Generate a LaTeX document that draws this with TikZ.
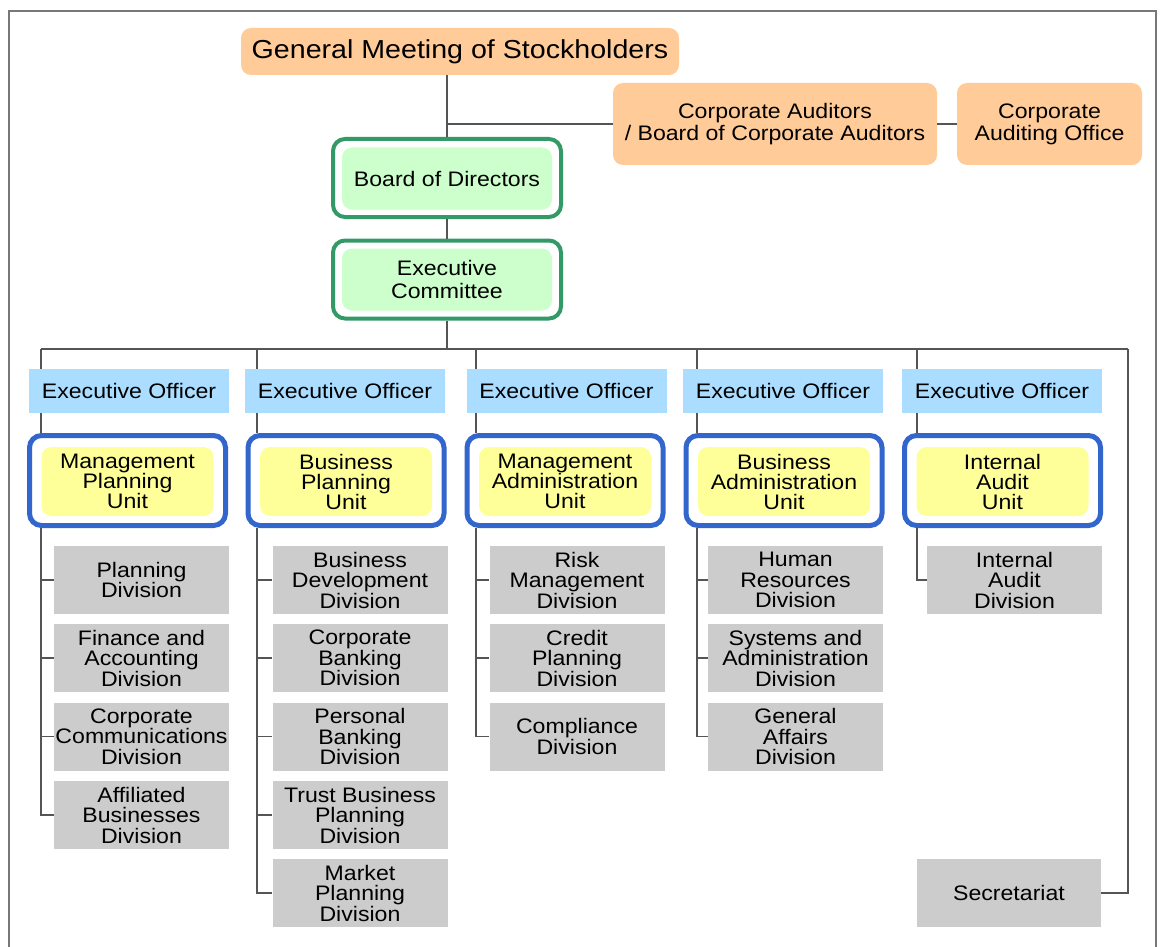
\documentclass[tikz,border=0pt]{standalone}
\usepackage{fontspec}
\setmainfont{Liberation Sans}[FakeStretch=1.1]
\definecolor{peach}{HTML}{FFCC99}
\definecolor{grn}{HTML}{339966}
\definecolor{lgrn}{HTML}{CCFFCC}
\definecolor{eoblue}{HTML}{AADDFF}
\definecolor{unitblue}{HTML}{3366CC}
\definecolor{yel}{HTML}{FFFF99}
\definecolor{divgray}{HTML}{CCCCCC}
\definecolor{linegray}{HTML}{555555}
\definecolor{framegray}{HTML}{777777}
\begin{document}
\begin{tikzpicture}[x=1pt,y=-1pt,
  every node/.style={inner sep=0pt, align=center, text=black, font=\fontsize{21}{20.5}\selectfont},
  peachbox/.style={fill=peach, rounded corners=10pt},
  greenouter/.style={draw=grn, line width=4pt, fill=white, rounded corners=12pt, minimum width=228pt, minimum height=78pt},
  greeninner/.style={fill=lgrn, rounded corners=10pt, minimum width=210pt, minimum height=62pt},
  eobox/.style={fill=eoblue, minimum width=200pt, minimum height=44pt},
  unitouter/.style={draw=unitblue, line width=5pt, fill=white, rounded corners=12pt, minimum width=196pt, minimum height=90pt},
  unitinner/.style={fill=yel, rounded corners=10pt, minimum width=172pt, minimum height=69pt, font=\fontsize{21}{20}\selectfont},
  divbox/.style={fill=divgray, minimum width=175pt, minimum height=68pt},
  conn/.style={draw=linegray, line width=1.6pt}]
\path[use as bounding box, fill=white] (0,0) rectangle (1160,947);
\draw[framegray, line width=2.5pt] (9,960) -- (9,11) -- (1156,11) -- (1156,960);

% top
\node[peachbox, minimum width=438pt, minimum height=47pt, font=\fontsize{26}{28}\selectfont] (gm) at (460,51.5) {General Meeting of Stockholders};
\node[peachbox, minimum width=324pt, minimum height=82pt, font=\fontsize{21}{22}\selectfont] (ca) at (775,124) {Corporate Auditors\\/ Board of Corporate Auditors};
\node[peachbox, minimum width=185pt, minimum height=82pt, font=\fontsize{21}{22}\selectfont] (cao) at (1049.5,124) {Corporate\\Auditing Office};

\node[greenouter] (bod) at (447,178) {};
\node[greeninner] (bodin) at (447,178.5) {Board of Directors};
\node[greenouter] (exc) at (447,279.5) {};
\node[greeninner, font=\fontsize{21}{23}\selectfont] (excin) at (447,279.5) {Executive\\Committee};

% executive officers
\node[eobox] (eo1) at (129,391) {Executive Officer};
\node[eobox] (eo2) at (345,391) {Executive Officer};
\node[eobox] (eo3) at (566.5,391) {Executive Officer};
\node[eobox] (eo4) at (783,391) {Executive Officer};
\node[eobox] (eo5) at (1002,391) {Executive Officer};

% units
\node[unitouter] (u1) at (127.5,480.5) {};
\node[unitinner] (u1in) at (127.5,481.5) {Management\\Planning\\Unit};
\node[unitouter] (u2) at (346,480.5) {};
\node[unitinner] (u2in) at (346,481.5) {Business\\Planning\\Unit};
\node[unitouter] (u3) at (565,480.5) {};
\node[unitinner] (u3in) at (565,481.5) {Management\\Administration\\Unit};
\node[unitouter] (u4) at (784,480.5) {};
\node[unitinner] (u4in) at (784,481.5) {Business\\Administration\\Unit};
\node[unitouter] (u5) at (1002.5,480.5) {};
\node[unitinner] (u5in) at (1002.5,481.5) {Internal\\Audit\\Unit};

% divisions
\node[divbox] (d11) at (141.5,580) {Planning\\Division};
\node[divbox] (d12) at (141.5,658) {Finance and\\Accounting\\Division};
\node[divbox] (d13) at (141.5,736.5) {Corporate\\Communications\\Division};
\node[divbox] (d14) at (141.5,815) {Affiliated\\Businesses\\Division};

\node[divbox] (d21) at (360,580) {Business\\Development\\Division};
\node[divbox] (d22) at (360,658) {Corporate\\Banking\\Division};
\node[divbox] (d23) at (360,736.5) {Personal\\Banking\\Division};
\node[divbox] (d24) at (360,815) {Trust Business\\Planning\\Division};
\node[divbox] (d25) at (360,893) {Market\\Planning\\Division};

\node[divbox] (d31) at (577,580) {Risk\\Management\\Division};
\node[divbox] (d32) at (577,658) {Credit\\Planning\\Division};
\node[divbox] (d33) at (577,736.5) {Compliance\\Division};

\node[divbox] (d41) at (795.5,580) {Human\\Resources\\Division};
\node[divbox] (d42) at (795.5,658) {Systems and\\Administration\\Division};
\node[divbox] (d43) at (795.5,736.5) {General\\Affairs\\Division};

\node[divbox] (d51) at (1014.5,580) {Internal\\Audit\\Division};
\node[divbox, minimum width=184pt] (sec) at (1009,893) {Secretariat};

% connectors
\draw[conn] (gm.south -| bod.north) -- (bod.north);
\draw[conn] (bod.north |- ca.west) -- (ca.west);
\draw[conn] (ca.east) -- (cao.west);
\draw[conn] (bod.south) -- (exc.north);
\coordinate (bus) at (447,349);
\draw[conn] (exc.south) -- (bus);
\coordinate (L1) at (41,349);
\coordinate (L2) at (257,349);
\coordinate (L3) at (476,349);
\coordinate (L4) at (697,349);
\coordinate (L5) at (917,349);
\coordinate (R) at (1128,349);
\draw[conn] (L1) -- (R);
\draw[conn] (R) |- (sec.east);

\draw[conn] (L1) -- (eo1.north -| L1);
\draw[conn] (eo1.south -| L1) -- (u1.north -| L1);
\draw[conn] (u1.south -| L1) |- (d14.west);
\draw[conn] (d11.west -| L1) -- (d11.west);
\draw[conn] (d12.west -| L1) -- (d12.west);
\draw[conn] (d13.west -| L1) -- (d13.west);

\draw[conn] (L2) -- (eo2.north -| L2);
\draw[conn] (eo2.south -| L2) -- (u2.north -| L2);
\draw[conn] (u2.south -| L2) |- (d25.west);
\draw[conn] (d21.west -| L2) -- (d21.west);
\draw[conn] (d22.west -| L2) -- (d22.west);
\draw[conn] (d23.west -| L2) -- (d23.west);
\draw[conn] (d24.west -| L2) -- (d24.west);

\draw[conn] (L3) -- (eo3.north -| L3);
\draw[conn] (eo3.south -| L3) -- (u3.north -| L3);
\draw[conn] (u3.south -| L3) |- (d33.west);
\draw[conn] (d31.west -| L3) -- (d31.west);
\draw[conn] (d32.west -| L3) -- (d32.west);

\draw[conn] (L4) -- (eo4.north -| L4);
\draw[conn] (eo4.south -| L4) -- (u4.north -| L4);
\draw[conn] (u4.south -| L4) |- (d43.west);
\draw[conn] (d41.west -| L4) -- (d41.west);
\draw[conn] (d42.west -| L4) -- (d42.west);

\draw[conn] (L5) -- (eo5.north -| L5);
\draw[conn] (eo5.south -| L5) -- (u5.north -| L5);
\draw[conn] (u5.south -| L5) |- (d51.west);
\end{tikzpicture}
\end{document}
